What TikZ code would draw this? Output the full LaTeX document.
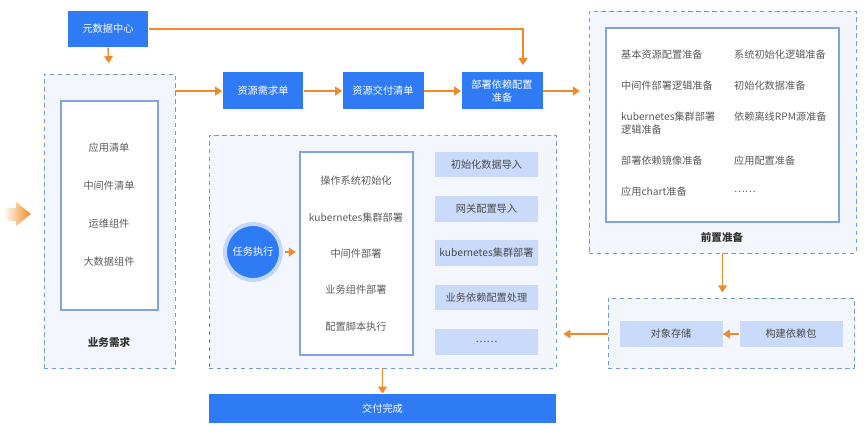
\documentclass[tikz,border=0pt]{standalone}
\usepackage{fontspec}
\setmainfont{Noto Sans CJK SC}
\usepackage{tikz}
\usetikzlibrary{arrows.meta, positioning, calc}

\definecolor{bluebox}{HTML}{2F7BF5}
\definecolor{lightbox}{HTML}{C9DAFA}
\definecolor{dashline}{HTML}{6E9CE0}
\definecolor{groupbg}{HTML}{F3F6FC}
\definecolor{innerline}{HTML}{7FA3E6}
\definecolor{glow}{HTML}{C3D7FB}
\definecolor{flow}{HTML}{EE8A2A}
\definecolor{itemtxt}{HTML}{5C5C5C}

\begin{document}
\begin{tikzpicture}[x=0.02cm, y=-0.02cm,
  font=\fontsize{5.8}{7.4}\selectfont,
  bloco/.style={rectangle,fill=bluebox,text=white,minimum width=1.62cm,
                minimum height=0.74cm,align=center,inner sep=1pt},
  grupo/.style={rectangle,draw=dashline,dashed,fill=groupbg,
                dash pattern=on 2.5pt off 2pt},
  painel/.style={rectangle,draw=innerline,fill=white,thick},
  item/.style={text=itemtxt,inner sep=1pt},
  tarefa/.style={rectangle,fill=lightbox,text=itemtxt!80!black,
                 minimum width=2.06cm,minimum height=0.52cm,inner sep=1pt},
  rotulo/.style={text=black!80,font=\fontsize{6}{7}\selectfont\bfseries},
  seta/.style={draw=flow,thick,-{Triangle[length=4pt,width=5pt]}}]

  \useasboundingbox (0,0) rectangle (864,435);

  % --- fonte de metadados ---
  \node[bloco,minimum height=0.72cm] (meta) at (108,29) {元数据中心};

  % --- necessidades de negocio ---
  \node[grupo,minimum width=2.62cm,minimum height=5.88cm] (neg) at (109.5,221) {};
  \node[painel,minimum width=1.94cm,minimum height=4.18cm] (negin) at (109.5,205.5) {};
  \node[item] (app) at (109,148) {应用清单};
  \node[item] (mid) at (109,186) {中间件清单};
  \node[item] (ops) at (109,224) {运维组件};
  \node[item] (big) at (109,262) {大数据组件};
  \node[rotulo] (neglbl) at (109,342) {业务需求};

  % --- seta de entrada ---
  \shade[left color=white,right color=flow!85!orange]
    (3,208) -- (16,208) -- (16,202) -- (31,214) -- (16,226) -- (16,221) -- (3,221) -- cycle;

  % --- fluxo superior ---
  \node[bloco] (rq) at (263,91) {资源需求单};
  \node[bloco] (rd) at (383,91) {资源交付清单};
  \node[bloco] (dep) at (502,91) {部署依赖配置\\准备};
  \coordinate (turn) at (523,29);

  \draw[seta,shorten >=6pt] (meta.south) -- (neg.north);
  \draw[seta] (meta.east) -- (turn) -- ([yshift=4pt]turn |- dep.north);
  \draw[seta] (neg.east |- rq.west) -- (rq.west);
  \draw[seta] (rq) -- (rd);
  \draw[seta] (rd) -- (dep);

  % --- preparacao ---
  \node[grupo,minimum width=5.34cm,minimum height=4.84cm] (prep) at (722.5,132) {};
  \node[painel,minimum width=4.66cm,minimum height=3.88cm] (prepin) at (722.5,125) {};
  \node[item,anchor=west] (p1) at (619,55) {基本资源配置准备};
  \node[item,anchor=west] (p2) at (732,55) {系统初始化逻辑准备};
  \node[item,anchor=west] (p3) at (619,86) {中间件部署逻辑准备};
  \node[item,anchor=west] (p4) at (732,86) {初始化数据准备};
  \node[item,anchor=west,align=left] (p5) at (619,123.5) {kubernetes集群部署\\逻辑准备};
  \node[item,anchor=west] (p6) at (732,117) {依赖离线RPM源准备};
  \node[item,anchor=west] (p7) at (619,161) {部署依赖镜像准备};
  \node[item,anchor=west] (p8) at (732,161) {应用配置准备};
  \node[item,anchor=west] (p9) at (619,192) {应用chart准备};
  \node[item,anchor=west] (p10) at (732,192) {……};
  \node[rotulo] (preplbl) at (722,237) {前置准备};

  \draw[seta,shorten >=5pt] (dep.east) -- (prep.west |- dep.east);

  % --- pacote de dependencias ---
  \node[grupo,minimum width=4.92cm,minimum height=1.4cm] (build) at (731,333) {};
  \node[tarefa] (obj) at (671,334) {对象存储};
  \node[tarefa] (pkg) at (791,334) {构建依赖包};

  \draw[seta,shorten >=3pt] (prep.south) -- (prep.south |- build.north);
  \draw[seta] (pkg) -- (obj);

  % --- execucao ---
  \node[grupo,minimum width=6.94cm,minimum height=4.66cm] (task) at (382.5,251.5) {};
  \node[circle,fill=bluebox,draw=glow,line width=2.2pt,minimum size=1.12cm,
        text=white,inner sep=0pt] (exec) at (253,252) {任务执行};
  \node[painel,minimum width=2.26cm,minimum height=4.06cm] (steps) at (356.5,253.5) {};
  \node[item] (s1) at (356,181) {操作系统初始化};
  \node[item] (s2) at (356,218) {kubernetes集群部署};
  \node[item] (s3) at (356,254) {中间件部署};
  \node[item] (s4) at (356,290) {业务组件部署};
  \node[item] (s5) at (356,327) {配置脚本执行};

  \node[tarefa] (t1) at (486.5,164.5) {初始化数据导入};
  \node[tarefa] (t2) at (486.5,209) {网关配置导入};
  \node[tarefa] (t3) at (486.5,253) {kubernetes集群部署};
  \node[tarefa] (t4) at (486.5,297.5) {业务依赖配置处理};
  \node[tarefa] (t5) at (486.5,342) {……};

  \draw[seta,shorten <=1pt,shorten >=2pt] (exec) -- (steps.west |- exec);
  \draw[seta,shorten >=4pt] (build.west |- obj) -- (task.east |- obj);

  % --- entrega ---
  \node[bloco,minimum width=6.94cm,minimum height=0.58cm] (done) at (382.5,408.5) {交付完成};
  \draw[seta] (task.south) -- (done.north);
\end{tikzpicture}
\end{document}
